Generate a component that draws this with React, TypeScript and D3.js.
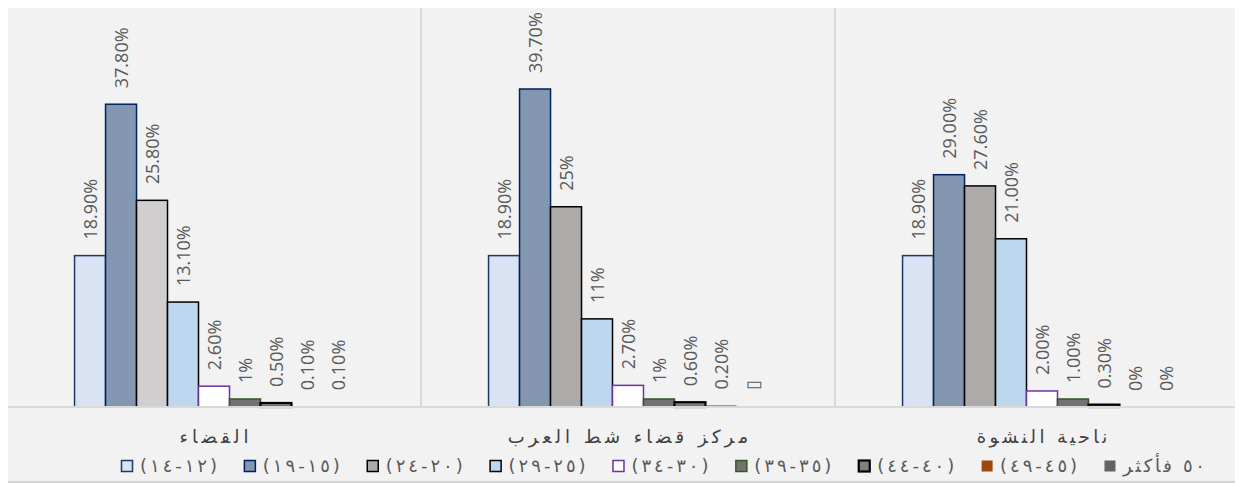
import React, { useEffect, useRef } from 'react';
import * as d3 from 'd3';

// categories (left to right as drawn)
const categories = ['القضاء', 'مركز قضاء شط العرب', 'ناحية النشوة'];
// age groups (series)
const ageGroups = ['(١٢-١٤)', '(١٥-١٩)', '(٢٠-٢٤)', '(٢٥-٢٩)', '(٣٠-٣٤)', '(٣٥-٣٩)', '(٤٠-٤٤)', '(٤٥-٤٩)', '٥٠ فأكثر'];
// percentages per category
const qadhaValues = [18.9, 37.8, 25.8, 13.1, 2.6, 1, 0.5, 0.1, 0.1];
const centreValues = [18.9, 39.7, 25, 11, 2.7, 1, 0.6, 0.2, 0.1];
const nashwaValues = [18.9, 29, 27.6, 21, 2, 1, 0.3, 0, 0];
// data labels as printed
const qadhaLabels = ['18.90%', '37.80%', '25.80%', '13.10%', '2.60%', '1%', '0.50%', '0.10%', '0.10%'];
const centreLabels = ['18.90%', '39.70%', '25%', '11%', '2.70%', '1%', '0.60%', '0.20%', '▯'];
const nashwaLabels = ['18.90%', '29.00%', '27.60%', '21.00%', '2.00%', '1.00%', '0.30%', '0%', '0%'];

const W = 1243;
const H = 483;

const seriesStyle = [
  { fill: '#dae3f3', stroke: '#1f3864', sw: 1.5 },
  { fill: '#8497b0', stroke: '#002060', sw: 1.5 },
  { fill: '#aeaaaa', stroke: '#000000', sw: 1.5 },
  { fill: '#bdd7ee', stroke: '#000000', sw: 1.5 },
  { fill: '#ffffff', stroke: '#7030a0', sw: 1.5 },
  { fill: '#767171', stroke: '#385723', sw: 1.5 },
  { fill: '#7f7f7f', stroke: '#000000', sw: 2.2 },
  { fill: '#9e480e', stroke: 'none', sw: 0 },
  { fill: '#636363', stroke: 'none', sw: 0 },
];
// the first category's (٢٠-٢٤) bar is a lighter grey
const fillOverride: Record<string, string> = { '0-2': '#d0cece' };

// the Arabic text in the original is set with wide spacing
const spread = (sel: d3.Selection<SVGTextElement, any, any, any>, k: number) => {
  sel.each(function () {
    const w = this.getComputedTextLength();
    d3.select(this).attr('textLength', w * k).attr('lengthAdjust', 'spacing');
  });
};

const App = () => {
  const ref = useRef<SVGSVGElement>(null);

  useEffect(() => {
    const svg = d3.select(ref.current);
    svg.selectAll('*').remove();

    const rows = [
      { values: qadhaValues, labels: qadhaLabels },
      { values: centreValues, labels: centreLabels },
      { values: nashwaValues, labels: nashwaLabels },
    ];

    // chart frame
    svg.append('rect').attr('width', W).attr('height', H).attr('fill', '#ffffff');
    svg
      .append('rect')
      .attr('x', 6.5)
      .attr('y', 6.5)
      .attr('width', W + 20)
      .attr('height', 475.5)
      .attr('fill', '#f2f2f2')
      .attr('stroke', '#c9c9c9')
      .attr('stroke-width', 1.5);

    const x0 = d3.scaleBand<number>().domain(d3.range(categories.length)).range([7, 1249]);
    const x1 = d3
      .scaleBand<number>()
      .domain(d3.range(ageGroups.length))
      .range([0, x0.bandwidth()])
      .paddingOuter(2.18);
    const y = d3.scaleLinear().domain([0, 50]).range([407, 6.5]);

    // separators between categories
    svg
      .selectAll('line.sep')
      .data(d3.range(1, categories.length))
      .join('line')
      .attr('class', 'sep')
      .attr('x1', (i) => x0(i)!)
      .attr('x2', (i) => x0(i)!)
      .attr('y1', 7)
      .attr('y2', y(0))
      .attr('stroke', '#d9d9d9')
      .attr('stroke-width', 2);

    const groups = svg
      .selectAll('g.cat')
      .data(rows)
      .join('g')
      .attr('class', 'cat')
      .attr('transform', (d, i) => `translate(${x0(i)},0)`);

    groups.each(function (row, ci) {
      const g = d3.select(this);
      g.selectAll('rect')
        .data(row.values)
        .join('rect')
        .attr('x', (d, si) => x1(si)!)
        .attr('width', x1.bandwidth())
        .attr('y', (d) => y(d))
        .attr('height', (d) => y(0) - y(d))
        .attr('fill', (d, si) => fillOverride[`${ci}-${si}`] || seriesStyle[si].fill)
        .attr('stroke', (d, si) => (d > 0 ? seriesStyle[si].stroke : 'none'))
        .attr('stroke-width', (d, si) => seriesStyle[si].sw);

      g.selectAll('text')
        .data(row.values)
        .join('text')
        .attr('transform', (d, si) => `translate(${x1(si)! + x1.bandwidth() / 2},${y(d) - 16}) rotate(-90)`)
        .attr('dominant-baseline', 'central')
        .attr('font-family', '"Open Sans", sans-serif')
        .attr('font-size', 18)
        .attr('fill', '#595959')
        .text((d, si) => row.labels[si]);
    });

    // category axis line
    svg
      .append('line')
      .attr('x1', 7)
      .attr('x2', W)
      .attr('y1', y(0))
      .attr('y2', y(0))
      .attr('stroke', '#d9d9d9')
      .attr('stroke-width', 2);

    const catText = svg
      .selectAll('text.cat')
      .data(categories)
      .join('text')
      .attr('class', 'cat')
      .attr('x', (d, i) => x0(i)! + x0.bandwidth() / 2)
      .attr('y', 443)
      .attr('text-anchor', 'middle')
      .attr('direction', 'rtl')
      .attr('font-family', '"DejaVu Sans", sans-serif')
      .attr('font-size', 18)
      .attr('fill', '#404040')
      .text((d) => d);
    spread(catText as any, 1.4);

    // legend
    const legend = svg.append('g');
    const items = legend
      .selectAll('g')
      .data(ageGroups)
      .join('g');
    items
      .append('text')
      .attr('direction', 'rtl')
      .attr('text-anchor', 'middle')
      .attr('font-family', '"DejaVu Sans", sans-serif')
      .attr('font-size', 18)
      .attr('fill', '#595959')
      .attr('y', 472)
      .text((d) => d);
    spread(items.select('text') as any, 1.3);
    const widths: number[] = [];
    items.select('text').each(function () {
      widths.push(+(this as SVGTextElement).getAttribute('textLength')!);
    });
    const marker = 12;
    const gapIn = 7;
    const left = 121;
    const right = 1205;
    const gapOut =
      (right - left - d3.sum(widths) - ageGroups.length * (marker + gapIn)) / (ageGroups.length - 1);
    let cx = left;
    items.each(function (d, i) {
      const it = d3.select(this);
      const st = seriesStyle[i];
      it.append('rect')
        .attr('x', cx + 0.5)
        .attr('y', 460.5)
        .attr('width', marker - 1)
        .attr('height', marker - 1)
        .attr('fill', st.fill)
        .attr('stroke', st.stroke)
        .attr('stroke-width', st.sw);
      it.select('text').attr('x', cx + marker + gapIn + widths[i] / 2);
      cx += marker + gapIn + widths[i] + gapOut;
    });
  }, []);

  return (
    <svg
      ref={ref}
      width={W}
      height={H}
      style={{ display: 'block', margin: '-8px 0 0 -8px' }}
    />
  );
};

export default App;
